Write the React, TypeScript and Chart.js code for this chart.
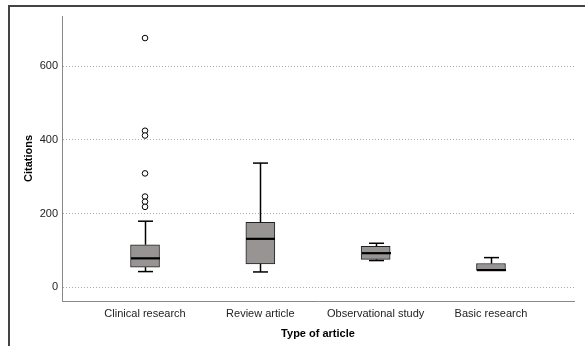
import React, { useEffect, useRef } from "react";
import { Chart, registerables } from "chart.js";

Chart.register(...registerables);

const categories = ["Clinical research", "Review article", "Observational study", "Basic research"];
const whiskerLow = [42, 41, 72, 45];
const q1 = [54, 63, 75, 45];
const median = [78, 131, 92, 46];
const q3 = [115, 176, 111, 64];
const whiskerHigh = [179, 337, 119, 80];
const outliersClinical = [677, 425, 412, 309, 246, 232, 218];
const yTicks = [0, 200, 400, 600];

const FONT = "Arial, 'Liberation Sans', sans-serif";
const BOX_WIDTH = 29;
const CAP_WIDTH = 15;

const framePlugin = {
  id: "frame",
  beforeDraw(chart: any) {
    const ctx = chart.ctx;
    ctx.save();
    ctx.fillStyle = "#444";
    ctx.fillRect(8, 5, 577, 2);
    ctx.fillRect(8, 5, 2, 341);
    ctx.restore();
  },
};

const whiskerPlugin = {
  id: "whiskers",
  afterDatasetsDraw(chart: any) {
    const { ctx } = chart;
    const x = chart.scales.x;
    const y = chart.scales.y;
    ctx.save();
    ctx.strokeStyle = "#000";
    categories.forEach((_, i) => {
      const cx = Math.round(x.getPixelForValue(i)) + 0.5;
      const line = (x1: number, y1: number, x2: number, y2: number) => {
        ctx.beginPath();
        ctx.moveTo(x1, y1);
        ctx.lineTo(x2, y2);
        ctx.stroke();
      };
      ctx.lineWidth = 1.5;
      const yHi = y.getPixelForValue(whiskerHigh[i]);
      const yLo = y.getPixelForValue(whiskerLow[i]);
      const yQ1 = y.getPixelForValue(q1[i]);
      const yQ3 = y.getPixelForValue(q3[i]);
      if (whiskerHigh[i] > q3[i]) {
        line(cx, yQ3, cx, yHi);
        line(cx - CAP_WIDTH / 2, yHi, cx + CAP_WIDTH / 2, yHi);
      }
      if (whiskerLow[i] < q1[i]) {
        line(cx, yQ1, cx, yLo);
        line(cx - CAP_WIDTH / 2, yLo, cx + CAP_WIDTH / 2, yLo);
      }
      ctx.lineWidth = 2.2;
      const yM = y.getPixelForValue(median[i]);
      line(cx - BOX_WIDTH / 2, yM, cx + BOX_WIDTH / 2, yM);
    });
    ctx.restore();
  },
};

export default function App() {
  const ref = useRef<HTMLCanvasElement | null>(null);

  useEffect(() => {
    if (!ref.current) return;
    const chart = new Chart(ref.current, {
      type: "bar",
      data: {
        datasets: [
          {
            type: "bar",
            data: categories.map((_, i) => ({ x: i, y: [q1[i], q3[i]] })) as any,
            backgroundColor: "#989494",
            borderColor: "#222",
            borderWidth: 1,
            borderSkipped: false,
            barThickness: BOX_WIDTH,
          } as any,
          {
            type: "scatter",
            data: outliersClinical.map((v) => ({ x: 0, y: v })),
            pointStyle: "circle",
            pointRadius: 2.8,
            pointBorderWidth: 1,
            pointBorderColor: "#000",
            pointBackgroundColor: "#fff",
          } as any,
        ],
      },
      options: {
        responsive: false,
        animation: false,
        events: [],
        layout: { padding: { left: 0, right: 11, top: 16, bottom: 0 } },
        plugins: {
          legend: { display: false },
          tooltip: { enabled: false },
        },
        scales: {
          x: {
            type: "linear",
            min: -0.72,
            max: 3.72,
            offset: false,
            bounds: "ticks",
            afterBuildTicks: (scale: any) => {
              scale.ticks = categories.map((_, i) => ({ value: i }));
            },
            afterDataLimits: (scale: any) => {
              scale.min = -0.72;
              scale.max = 3.72;
            },
            afterFit: (scale: any) => {
              scale.height = 46;
            },
            grid: { display: false, drawTicks: false, offset: false },
            border: { display: true, color: "#888", width: 1 },
            ticks: {
              padding: 6,
              autoSkip: false,
              maxRotation: 0,
              color: "#222",
              font: { family: FONT, size: 11 },
              callback: (v: any) => categories[v as number] ?? "",
            },
            title: {
              display: true,
              text: "Type of article",
              color: "#000",
              font: { family: FONT, size: 11, weight: "bold" },
              padding: { top: 0, bottom: 6.4 },
            },
          },
          y: {
            type: "linear",
            min: -38,
            max: 737,
            afterBuildTicks: (scale: any) => {
              scale.ticks = yTicks.map((v) => ({ value: v }));
            },
            afterFit: (scale: any) => {
              scale.width = 62;
            },
            grid: { color: "#aaa", lineWidth: 1, drawTicks: false },
            border: { display: true, color: "#888", width: 1, dash: [1, 2] },
            ticks: {
              padding: 4,
              color: "#222",
              font: { family: FONT, size: 11 },
            },
            title: {
              display: true,
              text: "Citations",
              color: "#000",
              font: { family: FONT, size: 11, weight: "bold" },
              padding: { top: 22.4, bottom: 0 },
            },
          },
        },
      },
      plugins: [framePlugin, whiskerPlugin],
    } as any);
    return () => chart.destroy();
  }, []);

  return (
    <div style={{ position: "fixed", left: 0, top: 0, width: 585, height: 347, background: "#fff" }}>
      <canvas ref={ref} width={585} height={347} style={{ width: 585, height: 347, display: "block" }} />
    </div>
  );
}
